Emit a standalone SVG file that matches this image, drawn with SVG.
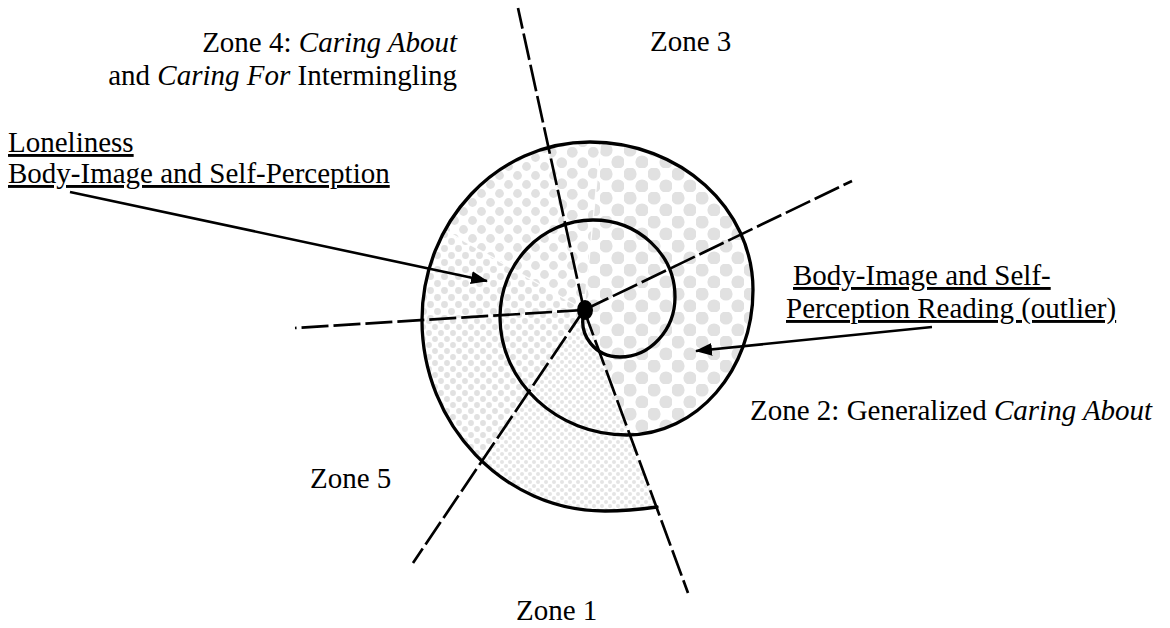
<svg xmlns="http://www.w3.org/2000/svg" width="1170" height="628" viewBox="0 0 1170 628">
  <style>
    text { font-family: "Liberation Serif", "Times New Roman", Times, serif; font-size: 29px; fill: #000; }
    .it { font-style: italic; }
    .ul { text-decoration: underline; }
    .dash { fill: none; stroke: #000; stroke-width: 2.7; stroke-dasharray: 27 5; }
    .spiral { fill: none; stroke: #000; stroke-width: 3.3; stroke-linecap: round; }
    .arrow { fill: none; stroke: #000; stroke-width: 2.6; marker-end: url(#ah); }
    .faint { stroke: #fff; stroke-width: 1.3; fill: none; opacity: 0.9; }
  </style>
  <defs>
    <marker id="ah" markerUnits="userSpaceOnUse" markerWidth="17" markerHeight="14" refX="16" refY="6.5" orient="auto">
      <path d="M0,0 L17,6.5 L0,13 Z" fill="#000"/>
    </marker>
    <pattern id="pBig" width="24" height="24" patternUnits="userSpaceOnUse">
      <circle cx="6" cy="6" r="6.6" fill="#e1e1e1"/>
      <circle cx="18" cy="18" r="6.6" fill="#e1e1e1"/>
    </pattern>
    <pattern id="pMed" width="21" height="21" patternUnits="userSpaceOnUse">
      <circle cx="5.25" cy="5.25" r="5.4" fill="#e1e1e1"/>
      <circle cx="15.75" cy="15.75" r="5.4" fill="#e1e1e1"/>
    </pattern>
    <pattern id="pUL" width="18" height="18" patternUnits="userSpaceOnUse">
      <circle cx="4.5" cy="4.5" r="4.4" fill="#e1e1e1"/>
      <circle cx="13.5" cy="13.5" r="4.4" fill="#e1e1e1"/>
    </pattern>
    <pattern id="pSm" width="14" height="14" patternUnits="userSpaceOnUse">
      <circle cx="3.5" cy="3.5" r="3.4" fill="#e1e1e1"/>
      <circle cx="10.5" cy="10.5" r="3.4" fill="#e1e1e1"/>
    </pattern>
    <pattern id="pZ5" width="12" height="12" patternUnits="userSpaceOnUse">
      <circle cx="3" cy="3" r="2.9" fill="#e1e1e1"/>
      <circle cx="9" cy="9" r="2.9" fill="#e1e1e1"/>
    </pattern>
    <pattern id="pFine" width="8" height="8" patternUnits="userSpaceOnUse">
      <circle cx="2" cy="2" r="2" fill="#e4e4e4"/>
      <circle cx="6" cy="6" r="2" fill="#e4e4e4"/>
    </pattern>
    <clipPath id="spiralArea">
      <path d="M630,436 L627,435 C697,435 753,370 753,290 C753,208 680,142 590,142 C497,142 422,222 422,320 C422,425 504,511 605,511 C625,511 643,509 657,507 Z"/>
    </clipPath>
  </defs>

  <rect width="1170" height="628" fill="#fff"/>

  <g id="fills" clip-path="url(#spiralArea)">
    <path d="M584,310 L487.9,-129.7 L628.8,-137.8 Z" fill="url(#pMed)"/>
    <path d="M584,310 L628.8,-137.8 L989.5,114.9 Z" fill="url(#pBig)"/>
    <path d="M584,310 L989.5,114.9 L1001.1,478.9 L739.2,732.4 Z" fill="url(#pBig)"/>
    <path d="M584,310 L739.2,732.4 L332,682.8 Z" fill="url(#pFine)"/>
    <path d="M584,310 L332,682.8 L134.9,338 Z" fill="url(#pZ5)"/>
    <path d="M584,310 L134.9,338 L193.7,85.7 Z" fill="url(#pSm)"/>
    <path d="M584,310 L193.7,85.7 L487.9,-129.7 Z" fill="url(#pUL)"/>
    <line class="faint" x1="584" y1="310" x2="628.8" y2="-137.8"/>
    <line class="faint" x1="584" y1="310" x2="193.7" y2="85.7"/>
  </g>

  <g id="zone-dividers">
    <line class="dash" x1="584" y1="310" x2="518" y2="8"/>
    <line class="dash" x1="584" y1="310" x2="852" y2="181"/>
    <line class="dash" x1="584" y1="310" x2="688" y2="593"/>
    <line class="dash" x1="584" y1="310" x2="413" y2="563"/>
    <line class="dash" x1="584" y1="310" x2="295" y2="328"/>
  </g>

  <g id="spiral">
    <path class="spiral" d="M584,312 C578,335 595,357 620,357 C650,357 675,330 675,297 C675,254 638,220 593,220 C542,220 500,263 500,317 C500,382 557,435 627,435 C697,435 753,370 753,290 C753,208 680,142 590,142 C497,142 422,222 422,320 C422,425 504,511 605,511 C625,511 643,509 657,507"/>
    <ellipse cx="585" cy="310" rx="8" ry="10" fill="#000"/>
  </g>

  <g id="zone4" font-family="Liberation Serif, Times New Roman, serif">
    <text x="457" y="52" text-anchor="end">Zone 4: <tspan class="it">Caring About</tspan></text>
    <text x="457" y="85" text-anchor="end">and <tspan class="it">Caring For</tspan> Intermingling</text>
  </g>
  <g id="zone3"><text x="650" y="51">Zone 3</text></g>
  <g id="zone2"><text x="750" y="420">Zone 2: Generalized <tspan class="it">Caring About</tspan></text></g>
  <g id="zone5"><text x="310" y="488">Zone 5</text></g>
  <g id="zone1"><text x="516" y="620">Zone 1</text></g>

  <g id="note-loneliness">
    <text class="ul" x="8" y="152">Loneliness</text>
    <text class="ul" x="8" y="183">Body-Image and Self-Perception</text>
  </g>
  <g id="note-outlier">
    <text class="ul" x="793" y="285">Body-Image and Self-</text>
    <text class="ul" x="786" y="318">Perception Reading (outlier)</text>
  </g>

  <g id="connectors">
    <line class="arrow" x1="70" y1="192" x2="487" y2="281"/>
    <line class="arrow" x1="932" y1="327" x2="696" y2="351"/>
  </g>
</svg>
